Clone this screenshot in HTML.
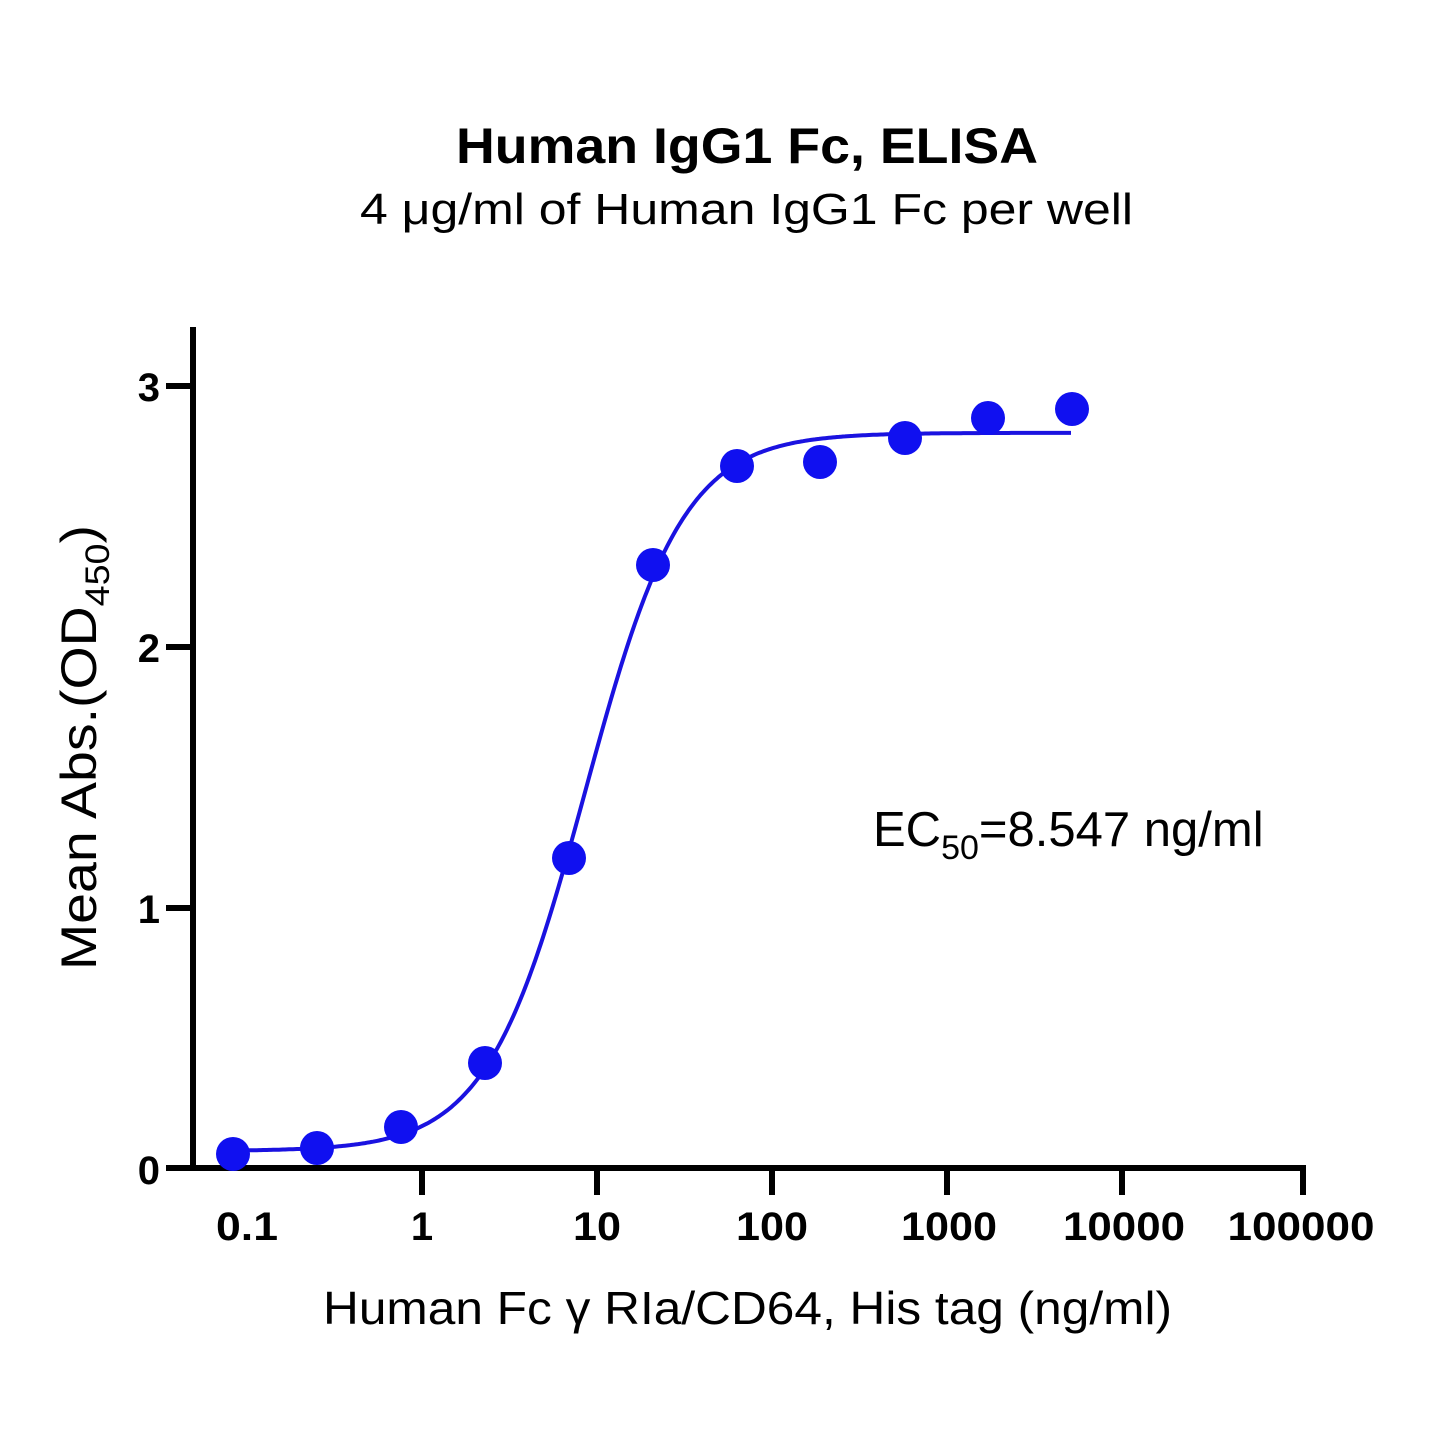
<!DOCTYPE html>
<html><head><meta charset="utf-8"><style>
html,body{margin:0;padding:0;background:#fff}
text{font-family:"Liberation Sans",Arial,sans-serif}
</style></head><body>
<svg width="1445" height="1445" viewBox="0 0 1445 1445" xmlns="http://www.w3.org/2000/svg">
<text x="456" y="163" font-size="50" font-weight="bold" textLength="582" lengthAdjust="spacingAndGlyphs">Human IgG1 Fc, ELISA</text>
<text x="360" y="224" font-size="44" textLength="773" lengthAdjust="spacingAndGlyphs">4 μg/ml of Human IgG1 Fc per well</text>
<g stroke="#000" stroke-width="6" fill="none">
<line x1="193" y1="327" x2="193" y2="1171"/>
<line x1="166" y1="1168" x2="1306" y2="1168"/>
<line x1="166" y1="386" x2="193" y2="386"/>
<line x1="166" y1="647" x2="193" y2="647"/>
<line x1="166" y1="908" x2="193" y2="908"/>
<line x1="422" y1="1168" x2="422" y2="1195"/>
<line x1="597" y1="1168" x2="597" y2="1195"/>
<line x1="772" y1="1168" x2="772" y2="1195"/>
<line x1="947" y1="1168" x2="947" y2="1195"/>
<line x1="1122" y1="1168" x2="1122" y2="1195"/>
<line x1="1303" y1="1168" x2="1303" y2="1195"/>
</g>
<g font-size="40" font-weight="bold" text-anchor="end">
<text x="160" y="401">3</text><text x="160" y="662">2</text><text x="160" y="923">1</text><text x="160" y="1184">0</text>
</g>
<g font-size="40" font-weight="bold" text-anchor="middle">
<text x="247" y="1240" textLength="62" lengthAdjust="spacingAndGlyphs">0.1</text><text x="422" y="1240">1</text><text x="597" y="1240" textLength="48" lengthAdjust="spacingAndGlyphs">10</text><text x="772" y="1240" textLength="72" lengthAdjust="spacingAndGlyphs">100</text><text x="949" y="1240" textLength="96" lengthAdjust="spacingAndGlyphs">1000</text><text x="1124" y="1240" textLength="122" lengthAdjust="spacingAndGlyphs">10000</text><text x="1301" y="1240" textLength="147" lengthAdjust="spacingAndGlyphs">100000</text>
</g>
<text x="323" y="1324" font-size="46" textLength="849" lengthAdjust="spacingAndGlyphs">Human Fc γ RIa/CD64, His tag (ng/ml)</text>
<text transform="translate(96,970) rotate(-90)" font-size="50" textLength="445" lengthAdjust="spacingAndGlyphs">Mean Abs.(OD<tspan font-size="34" dy="13">450</tspan><tspan dy="-13">)</tspan></text>
<text x="873" y="846" font-size="49">EC<tspan font-size="34" dy="13">50</tspan><tspan dy="-13">=8.547 ng/ml</tspan></text>
<path id="curve" d="" stroke="#1a12e0" stroke-width="4" fill="none"/>
<g fill="#1010f0">
<circle cx="233" cy="1154" r="17"/><circle cx="317" cy="1148" r="17"/><circle cx="401" cy="1127" r="17"/><circle cx="485" cy="1063" r="17"/><circle cx="569" cy="858" r="17"/><circle cx="653" cy="565" r="17"/><circle cx="737" cy="466" r="17"/><circle cx="820" cy="462" r="17"/><circle cx="905" cy="438" r="17"/><circle cx="988" cy="418" r="17"/><circle cx="1072" cy="409" r="17"/>
</g>
<script>
(function(){var d="",b=0.065,t=2.82,h=1.55,e=Math.log10(8.547);
for(var x=233;x<=1072;x+=2){var l=(x-422)/175;var v=b+(t-b)/(1+Math.pow(10,(e-l)*h));var y=1168-v*260.7;d+=(x==233?"M":"L")+x+","+y.toFixed(1);}
document.getElementById("curve").setAttribute("d",d);})();
</script>
</svg>
</body></html>
